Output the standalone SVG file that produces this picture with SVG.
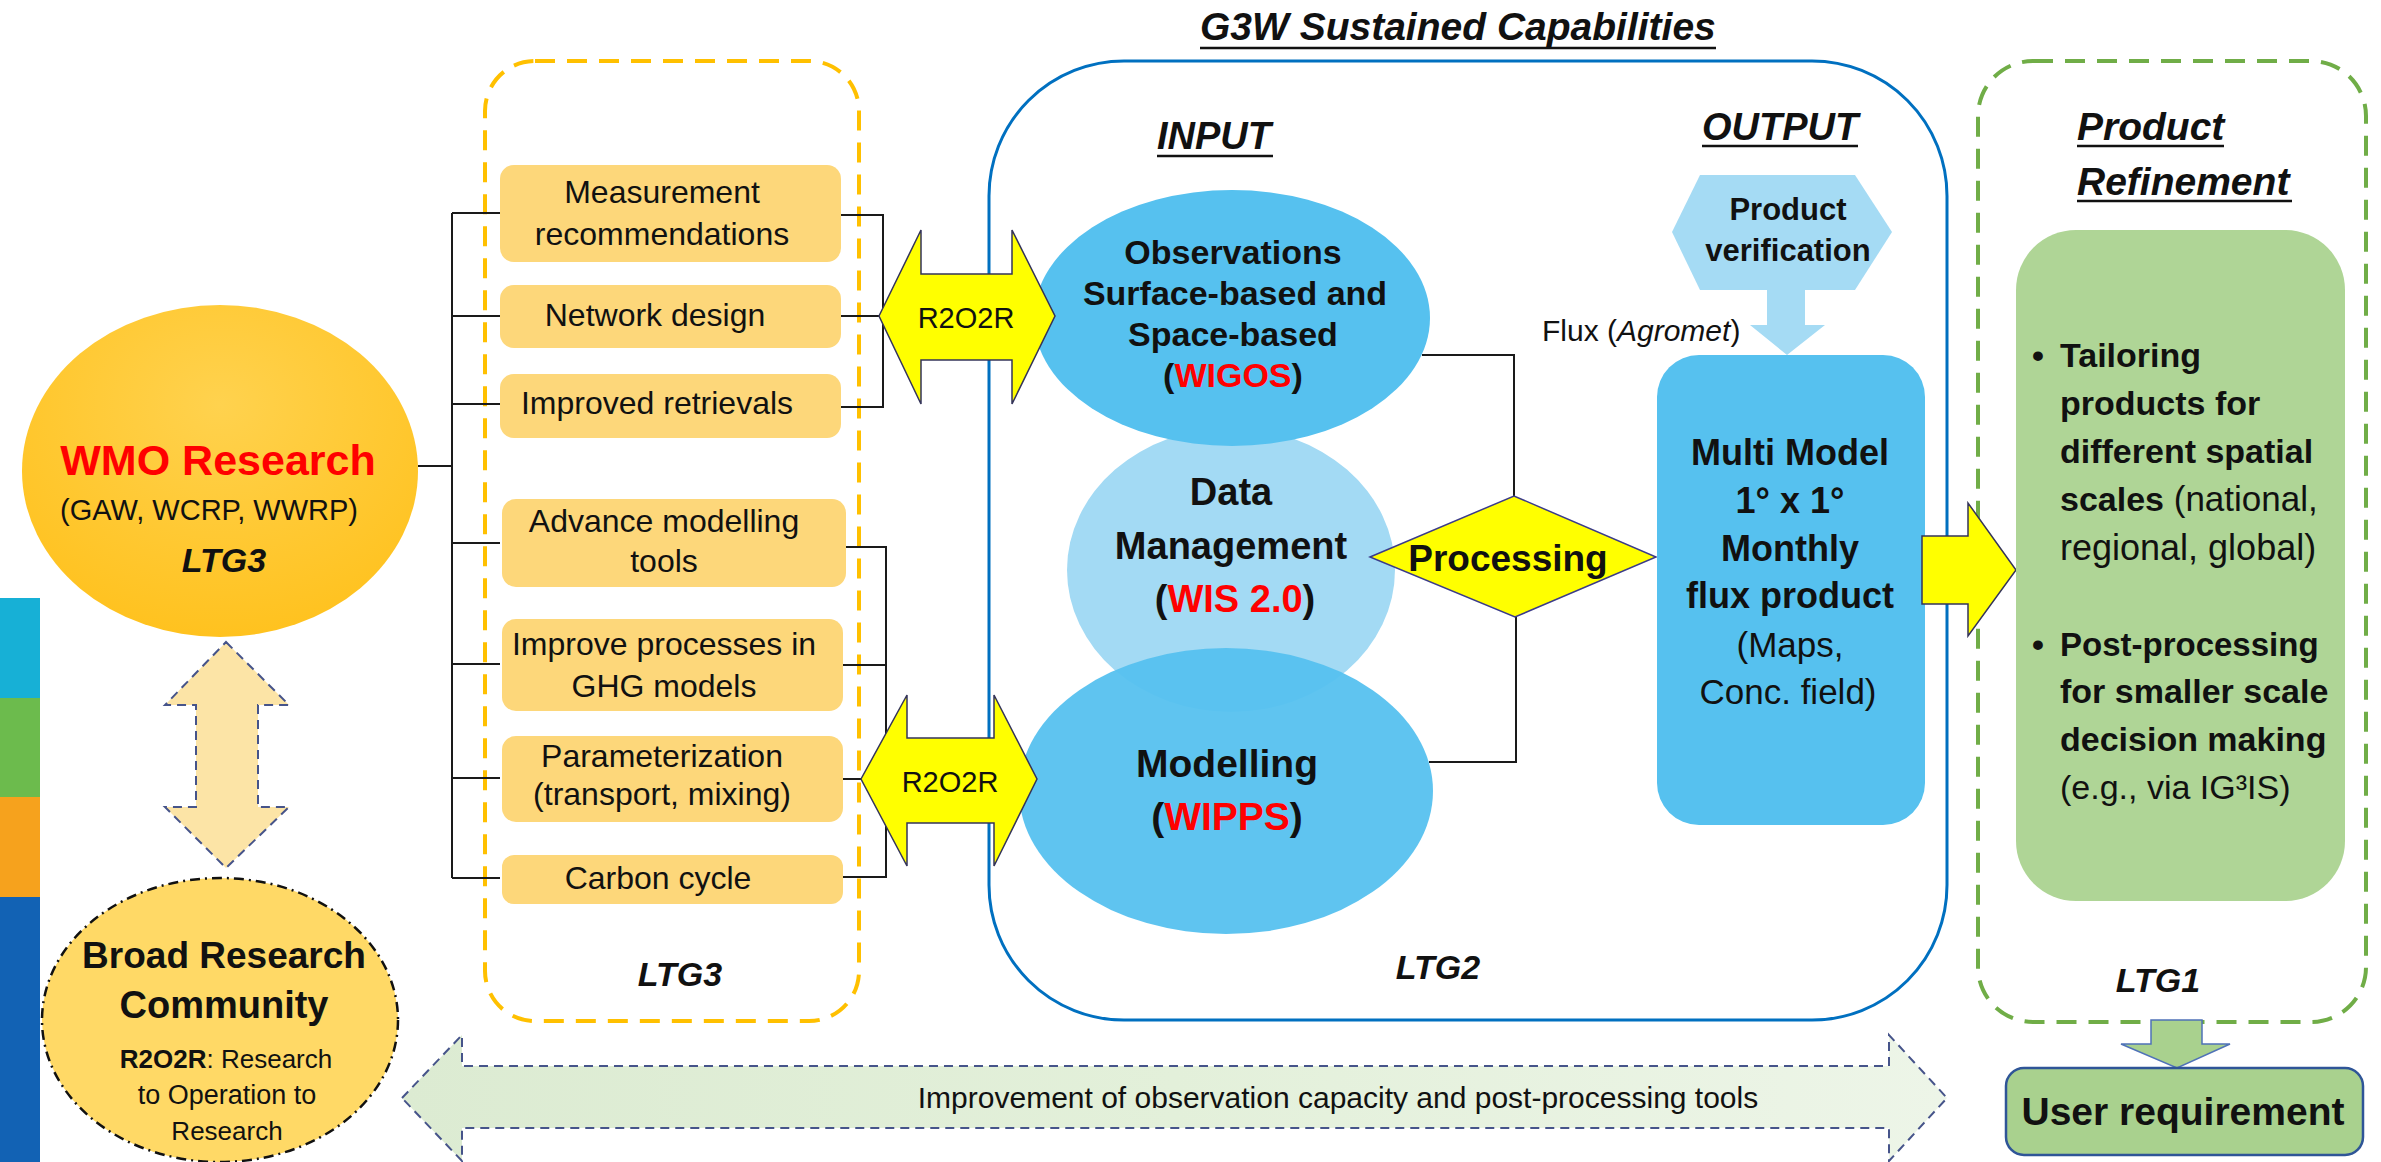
<svg xmlns="http://www.w3.org/2000/svg" width="2381" height="1162" viewBox="0 0 2381 1162">
<defs>
<style>
text { font-family: "Liberation Sans", Arial, sans-serif; fill: #111; }
.b { font-weight: bold; }
.bi { font-weight: bold; font-style: italic; }
.mid { text-anchor: middle; }
.obox { fill: #FDD77A; }
.lbl { font-size: 32px; text-anchor: middle; }
.conn { fill: none; stroke: #1a1a1a; stroke-width: 2; }
.yarrow { fill: #FFFF00; stroke: #34345a; stroke-width: 1.5; stroke-linejoin: miter; }
.red { fill: #FF0000; }
.ul { stroke: #111; stroke-width: 2.5; }
.sky { fill: #56C1EF; }
.pale { fill: #A5DBF4; }
.dashgray { stroke: #46548A; stroke-width: 2; stroke-dasharray: 9 6; }
</style>
<radialGradient id="gWmo" cx="0.5" cy="0.3" r="0.7">
<stop offset="0" stop-color="#FFD24E"/>
<stop offset="1" stop-color="#FFC21F"/>
</radialGradient>
<linearGradient id="gBottom" x1="0" y1="0" x2="1" y2="0">
<stop offset="0" stop-color="#DCEBD2"/>
<stop offset="0.5" stop-color="#E3F0DA"/>
<stop offset="1" stop-color="#EDF5E8"/>
</linearGradient>
</defs>

<rect x="0" y="0" width="2381" height="1162" fill="#FFFFFF"/>

<!-- Title -->
<g id="title">
<text class="bi" x="1200" y="40" font-size="39">G3W Sustained Capabilities</text>
<line class="ul" x1="1200" y1="48" x2="1716" y2="48"/>
</g>

<!-- Containers -->
<g id="g3w-container">
<rect x="989" y="61" width="958" height="959" rx="135" ry="135" fill="none" stroke="#0070C0" stroke-width="3"/>
<text class="bi" x="1157" y="149" font-size="38">INPUT</text>
<line class="ul" x1="1157" y1="156" x2="1273" y2="156"/>
<text class="bi" x="1702" y="140" font-size="38">OUTPUT</text>
<line class="ul" x1="1702" y1="146" x2="1858" y2="146"/>
<text class="bi mid" x="1438" y="979" font-size="34">LTG2</text>
</g>

<g id="ltg3-container">
<rect x="485" y="61" width="374" height="960" rx="50" ry="50" fill="none" stroke="#FFC000" stroke-width="4" stroke-dasharray="20 12"/>
<text class="bi mid" x="680" y="986" font-size="34">LTG3</text>
</g>

<g id="ltg1-container">
<rect x="1978" y="61" width="388" height="961" rx="55" ry="55" fill="none" stroke="#70AD47" stroke-width="4" stroke-dasharray="20 12"/>
<text class="bi" x="2077" y="140" font-size="39">Product</text>
<line class="ul" x1="2077" y1="146" x2="2224" y2="146"/>
<text class="bi" x="2077" y="195" font-size="39">Refinement</text>
<line class="ul" x1="2077" y1="201" x2="2292" y2="201"/>
<text class="bi mid" x="2158" y="992" font-size="34">LTG1</text>
</g>

<!-- Left colour bar -->
<g id="color-bar">
<rect x="0" y="598" width="40" height="100" fill="#17B0D6"/>
<rect x="0" y="698" width="40" height="99" fill="#6CBB4D"/>
<rect x="0" y="797" width="40" height="100" fill="#F6A21D"/>
<rect x="0" y="897" width="40" height="265" fill="#1262B4"/>
</g>

<!-- Connectors -->
<g id="connectors">
<path class="conn" d="M452 213 V878 M418 466 H452 M452 213 H500 M452 316 H500 M452 404 H500 M452 543 H500 M452 664 H500 M452 778 H500 M452 878 H500"/>
<path class="conn" d="M841 215 H883 V407 H841 M841 316 H883"/>
<path class="conn" d="M846 547 H886 V877 H843 M843 665 H886 M843 779 H886"/>
<polyline class="conn" points="1422,355 1514,355 1514,496"/>
<polyline class="conn" points="1429,762 1516,762 1516,617"/>
</g>

<!-- LTG3 boxes -->
<g id="box-measurement">
<rect class="obox" x="500" y="165" width="341" height="97" rx="14"/>
<text class="lbl" x="662" y="203">Measurement</text>
<text class="lbl" x="662" y="245">recommendations</text>
</g>
<g id="box-network">
<rect class="obox" x="500" y="285" width="341" height="63" rx="14"/>
<text class="lbl" x="655" y="326">Network design</text>
</g>
<g id="box-retrievals">
<rect class="obox" x="500" y="374" width="341" height="64" rx="14"/>
<text class="lbl" x="657" y="414">Improved retrievals</text>
</g>
<g id="box-advance">
<rect class="obox" x="502" y="499" width="344" height="88" rx="14"/>
<text class="lbl" x="664" y="532">Advance modelling</text>
<text class="lbl" x="664" y="572">tools</text>
</g>
<g id="box-improve">
<rect class="obox" x="502" y="619" width="341" height="92" rx="14"/>
<text class="lbl" x="664" y="655">Improve processes in</text>
<text class="lbl" x="664" y="697">GHG models</text>
</g>
<g id="box-param">
<rect class="obox" x="502" y="736" width="341" height="86" rx="14"/>
<text class="lbl" x="662" y="767">Parameterization</text>
<text class="lbl" x="662" y="805">(transport, mixing)</text>
</g>
<g id="box-carbon">
<rect class="obox" x="502" y="855" width="341" height="49" rx="12"/>
<text class="lbl" x="658" y="889">Carbon cycle</text>
</g>

<!-- WMO Research -->
<g id="wmo-research">
<ellipse cx="220" cy="471" rx="198" ry="166" fill="url(#gWmo)"/>
<text class="b mid red" x="218" y="475" font-size="43">WMO Research</text>
<text class="mid" x="209" y="520" font-size="29">(GAW, WCRP, WWRP)</text>
<text class="bi mid" x="224" y="572" font-size="34">LTG3</text>
</g>

<!-- Vertical double arrow -->
<g id="arrow-wmo-broad">
<polygon points="226,642 289,705 258,705 258,807 289,807 226,868 165,807 196,807 196,705 165,705" fill="#FCE4A6" class="dashgray"/>
</g>

<!-- Broad Research Community -->
<g id="broad-research">
<ellipse cx="220" cy="1020" rx="178" ry="142" fill="#FFD966" stroke="#111" stroke-width="2.5" stroke-dasharray="10 5 2 5"/>
<text class="b mid" x="224" y="968" font-size="37">Broad Research</text>
<text class="b mid" x="224" y="1018" font-size="38">Community</text>
<text class="mid" x="226" y="1068" font-size="26"><tspan class="b">R2O2R</tspan>: Research</text>
<text class="mid" x="227" y="1104" font-size="27">to Operation to</text>
<text class="mid" x="227" y="1140" font-size="26">Research</text>
</g>

<!-- Bottom double arrow -->
<g id="arrow-improvement">
<polygon points="402,1098 462,1035 462,1066 1889,1066 1889,1035 1947,1098 1889,1161 1889,1128 462,1128 462,1161" fill="url(#gBottom)" class="dashgray"/>
<text class="mid" x="1338" y="1108" font-size="30">Improvement of observation capacity and post-processing tools</text>
</g>

<!-- INPUT ellipses -->
<g id="data-management">
<ellipse cx="1231" cy="570" rx="164" ry="142" fill="#A3DAF4"/>
<text class="b mid" x="1231" y="505" font-size="38">Data</text>
<text class="b mid" x="1231" y="559" font-size="38">Management</text>
<text class="b mid" x="1235" y="612" font-size="38">(<tspan class="red">WIS 2.0</tspan>)</text>
</g>
<g id="observations">
<ellipse class="sky" cx="1232" cy="318" rx="198" ry="128"/>
<text class="b mid" x="1233" y="264" font-size="34">Observations</text>
<text class="b mid" x="1235" y="305" font-size="34">Surface-based and</text>
<text class="b mid" x="1233" y="346" font-size="34">Space-based</text>
<text class="b mid" x="1233" y="387" font-size="34">(<tspan class="red">WIGOS</tspan>)</text>
</g>
<g id="modelling">
<ellipse class="sky" cx="1226" cy="791" rx="207" ry="143" fill-opacity="0.95"/>
<text class="b mid" x="1227" y="777" font-size="39">Modelling</text>
<text class="b mid" x="1227" y="830" font-size="39">(<tspan class="red">WIPPS</tspan>)</text>
</g>

<!-- R2O2R arrows -->
<g id="r2o2r-top">
<polygon class="yarrow" points="879,316 921,230 921,274 1012,274 1012,230 1055,316 1012,404 1012,360 921,360 921,404"/>
<text class="mid" x="966" y="328" font-size="29">R2O2R</text>
</g>
<g id="r2o2r-bottom">
<polygon class="yarrow" points="861,779 907,695 907,738 994,738 994,695 1037,779 994,866 994,823 907,823 907,866"/>
<text class="mid" x="950" y="792" font-size="29">R2O2R</text>
</g>

<!-- Processing -->
<g id="processing">
<polygon points="1370,557 1514,496 1656,557 1515,617" fill="#FFFF00" stroke="#3B3B8A" stroke-width="1.5"/>
<text class="b mid" x="1508" y="571" font-size="37">Processing</text>
</g>

<!-- Flux label -->
<g id="flux-label">
<text x="1542" y="341" font-size="30">Flux (<tspan font-style="italic">Agromet</tspan>)</text>
</g>

<!-- Product verification -->
<g id="product-verification">
<polygon class="pale" points="1672,232 1700,175 1855,175 1892,232 1855,290 1700,290"/>
<polygon class="pale" points="1767,288 1805,288 1805,325 1825,325 1787,355 1750,325 1767,325"/>
<text class="b mid" x="1788" y="220" font-size="31">Product</text>
<text class="b mid" x="1788" y="261" font-size="31">verification</text>
</g>

<!-- Multi model product -->
<g id="multi-model">
<rect class="sky" x="1657" y="355" width="268" height="470" rx="42"/>
<text class="b mid" x="1790" y="465" font-size="36">Multi Model</text>
<text class="b mid" x="1790" y="513" font-size="36">1° x 1°</text>
<text class="b mid" x="1790" y="561" font-size="36">Monthly</text>
<text class="b mid" x="1790" y="608" font-size="36">flux product</text>
<text class="mid" x="1790" y="657" font-size="35">(Maps,</text>
<text class="mid" x="1788" y="704" font-size="35">Conc. field)</text>
</g>

<!-- Arrow to refinement -->
<g id="arrow-refinement">
<polygon class="yarrow" points="1922,536 1968,536 1968,503 2016,570 1968,636 1968,604 1922,604"/>
</g>

<!-- Product refinement box -->
<g id="refinement-box">
<rect x="2016" y="230" width="329" height="671" rx="60" fill="#AFD596"/>
<text class="b" x="2032" y="367" font-size="34">•</text>
<text class="b" x="2060" y="367" font-size="34">Tailoring</text>
<text class="b" x="2060" y="415" font-size="34">products for</text>
<text class="b" x="2060" y="463" font-size="34">different spatial</text>
<text x="2060" y="511" font-size="34"><tspan class="b">scales</tspan><tspan font-size="35"> (national,</tspan></text>
<text x="2060" y="560" font-size="36">regional, global)</text>
<text class="b" x="2032" y="656" font-size="34">•</text>
<text class="b" x="2060" y="656" font-size="33">Post-processing</text>
<text class="b" x="2060" y="703" font-size="34">for smaller scale</text>
<text class="b" x="2060" y="751" font-size="34">decision making</text>
<text x="2060" y="799" font-size="34">(e.g., via IG³IS)</text>
</g>

<!-- Down arrow to user requirement -->
<g id="arrow-user">
<polygon points="2151,1020 2202,1020 2202,1044 2230,1044 2177,1068 2121,1044 2151,1044" fill="#A9D18E" stroke="#4F72B8" stroke-width="1.5"/>
</g>

<!-- User requirement -->
<g id="user-requirement">
<rect x="2006" y="1068" width="357" height="87" rx="18" fill="#A9D18E" stroke="#2F5597" stroke-width="2.5"/>
<text class="b mid" x="2183" y="1125" font-size="39">User requirement</text>
</g>
</svg>
